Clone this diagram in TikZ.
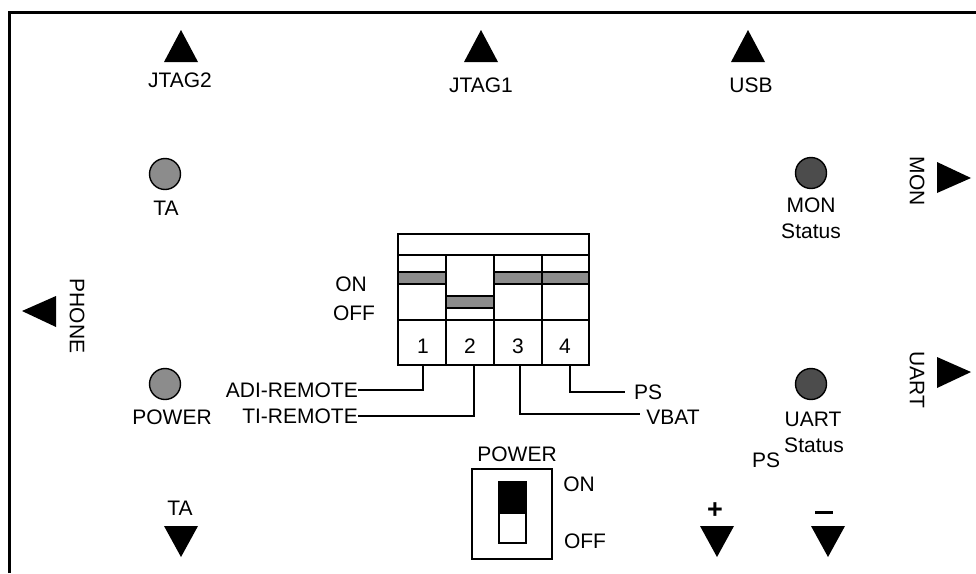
\documentclass[tikz,border=0pt]{standalone}
\usepackage{fontspec}
\setmainfont{Liberation Sans}
\tikzset{
  x=1pt,y=-1pt,
  lbl/.style={inner sep=0pt,font=\fontsize{21}{24}\selectfont,text=black},
  tri/.style={fill=black,draw=none},
  led/.style={circle,draw=black,line width=1.4pt,minimum size=31pt,inner sep=0pt},
  ledl/.style={led,fill=black!45},
  ledd/.style={led,fill=black!70},
  ln/.style={draw=black,line width=1.5pt},
  bar/.style={draw=black,line width=1.5pt,fill=black!45},
}
\begin{document}
\begin{tikzpicture}
\useasboundingbox (0,0) rectangle (976,573);
\fill[white] (0,0) rectangle (976,573);
\draw[line width=3pt] (9,573) -- (9,12) -- (976,12);
% up triangles
\fill[tri] (181,30) -- (198,62) -- (164,62) -- cycle;
\fill[tri] (481,30) -- (498,62) -- (464,62) -- cycle;
\fill[tri] (748,30) -- (765,62) -- (731,62) -- cycle;
% right triangles
\fill[tri] (971,178) -- (937,162) -- (937,193) -- cycle;
\fill[tri] (971,372) -- (937,357) -- (937,388) -- cycle;
% left
\fill[tri] (22,311) -- (56,296) -- (56,327) -- cycle;
% down
\fill[tri] (181,557) -- (164,526) -- (198,526) -- cycle;
\fill[tri] (717,557) -- (700,526) -- (734,526) -- cycle;
\fill[tri] (828,557) -- (811,526) -- (845,526) -- cycle;
% LEDs
\node[ledl] (ta) at (165,174) {};
\node[ledl] (pw) at (165,384) {};
\node[ledd] (mon) at (811,173) {};
\node[ledd] (ua) at (811,384) {};
% labels
\node[lbl] at (180,80) {JTAG2};
\node[lbl] at (481,85) {JTAG1};
\node[lbl] at (751,85) {USB};
\node[lbl] at (166,208) {TA};
\node[lbl] at (172,417) {POWER};
\node[lbl] at (811,205) {MON};
\node[lbl] at (811,231) {Status};
\node[lbl] at (813,419) {UART};
\node[lbl] at (814,445) {Status};
\node[lbl] at (766,460) {PS};
\node[lbl,rotate=-90] at (917,181) {MON};
\node[lbl,rotate=-90] at (917,380) {UART};
\node[lbl,rotate=-90] at (77,316) {PHONE};
\node[lbl] at (180,508) {TA};
\node[lbl] at (351,284) {ON};
\node[lbl] at (354,313) {OFF};
\node[lbl,anchor=east] (adi) at (358,390) {ADI-REMOTE};
\node[lbl,anchor=east] (ti) at (358,416) {TI-REMOTE};
\node[lbl] (ps) at (648,392) {PS};
\node[lbl] (vb) at (673,417) {VBAT};
\node[lbl] at (517,454) {POWER};
\node[lbl] at (579,484) {ON};
\node[lbl] at (585,541) {OFF};
\node[font=\bfseries\fontsize{27}{27}\selectfont,inner sep=0pt] at (715,511) {+};
\fill (815,510.5) rectangle (833,513.5);
% DIP switch
\draw[ln] (398,234) rectangle (589,365);
\draw[ln] (398,255) -- (589,255) (398,320) -- (589,320);
\draw[ln] (446,255) -- (446,365) (494,255) -- (494,365) (542,255) -- (542,365);
\draw[bar] (398,272) rectangle (446,284);
\draw[bar] (446,296) rectangle (494,308);
\draw[bar] (494,272) rectangle (542,284);
\draw[bar] (542,272) rectangle (589,284);
\node[lbl] (n1) at (423,346) {1};
\node[lbl] (n2) at (470,346) {2};
\node[lbl] (n3) at (518,346) {3};
\node[lbl] (n4) at (565,346) {4};
\coordinate (s1) at (423,365);
\coordinate (s2) at (474,365);
\coordinate (s3) at (520,365);
\coordinate (s4) at (570,365);
\draw[ln] (s1) |- (adi.east);
\draw[ln] (s2) |- (ti.east);
\coordinate (e3) at (640,414);
\coordinate (e4) at (625,392);
\draw[ln] (s3) |- (e3);
\draw[ln] (s4) |- (e4);
% power switch
\draw[ln] (472,469) rectangle (552,559);
\draw[ln] (499,482) rectangle (526,543);
\fill (498,482) rectangle (527,514);
\end{tikzpicture}
\end{document}
